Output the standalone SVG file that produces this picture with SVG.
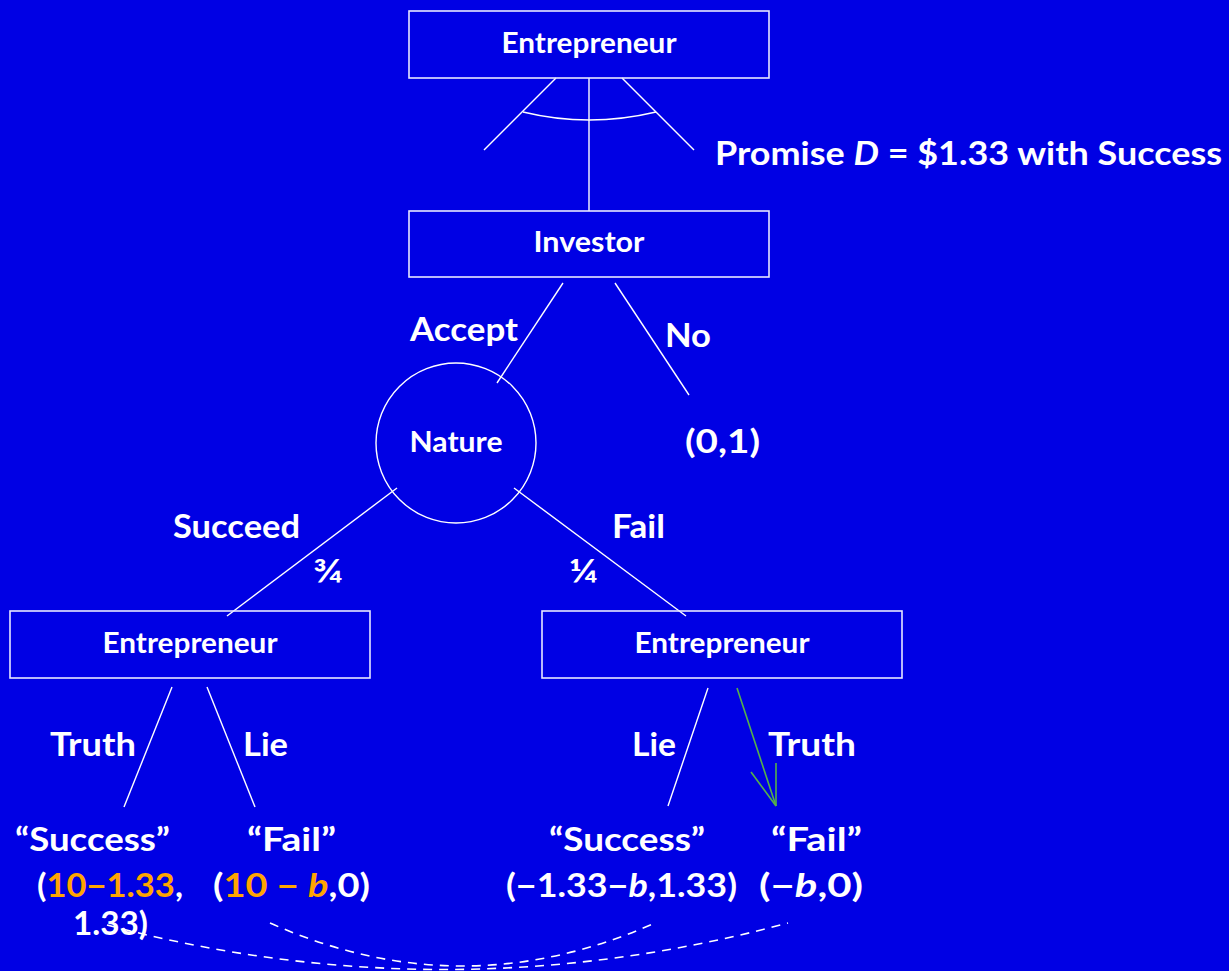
<svg xmlns="http://www.w3.org/2000/svg" width="1229" height="971" viewBox="0 0 1229 971">
<style>
text{font-family:Lato,"Liberation Sans",sans-serif;font-weight:bold;fill:#ffffff}
.box{fill:none;stroke:#e6e6ff;stroke-width:1.6}
.lbl{font-size:28px;text-anchor:middle}
.big{font-size:33px}
.ln{stroke:#ffffff;stroke-width:1.4;fill:none}
.dash{stroke:#ffffff;stroke-width:1.6;fill:none;stroke-dasharray:9 7}
.or{fill:#ffa500}
.it{font-style:italic}
</style>
<rect width="1229" height="971" fill="#0000e4"/>
<g id="connectors">
<line class="ln" x1="556" y1="78" x2="484" y2="150"/>
<line class="ln" x1="589" y1="78" x2="589" y2="211"/>
<line class="ln" x1="622" y1="78" x2="694" y2="150"/>
<path class="ln" d="M523 112 Q589 128 656 112"/>
<line class="ln" x1="563" y1="283" x2="497" y2="383"/>
<line class="ln" x1="615" y1="283" x2="689" y2="395"/>
<line class="ln" x1="397" y1="488" x2="227" y2="616"/>
<line class="ln" x1="514" y1="488" x2="686" y2="616"/>
<line class="ln" x1="172" y1="687" x2="124" y2="807"/>
<line class="ln" x1="207" y1="687" x2="255" y2="807"/>
<line class="ln" x1="708" y1="688" x2="668" y2="806"/>
<g stroke="#55b04a" stroke-width="1.6" fill="none">
<line x1="737" y1="688" x2="776" y2="806"/>
<line x1="751" y1="772" x2="776" y2="806"/>
<line x1="776" y1="763" x2="776" y2="806"/>
</g>
<path class="dash" d="M107 925 Q447 1015 788 923"/>
<path class="dash" d="M270 923 Q462 1009 655 923"/>
</g>
<g id="entrepreneur-top">
<rect class="box" x="409" y="11" width="360" height="67"/>
<text class="lbl" x="589" y="53" textLength="175" lengthAdjust="spacingAndGlyphs">Entrepreneur</text>
</g>
<g id="investor">
<rect class="box" x="409" y="211" width="360" height="66"/>
<text class="lbl" x="589" y="252" textLength="111" lengthAdjust="spacingAndGlyphs">Investor</text>
</g>
<g id="nature">
<circle cx="456" cy="443" r="80" fill="none" stroke="#ffffff" stroke-width="1.4"/>
<text class="lbl" x="456" y="452" textLength="93" lengthAdjust="spacingAndGlyphs">Nature</text>
</g>
<g id="entrepreneur-left">
<rect class="box" x="10" y="611" width="360" height="67"/>
<text class="lbl" x="190" y="653" textLength="175" lengthAdjust="spacingAndGlyphs">Entrepreneur</text>
</g>
<g id="entrepreneur-right">
<rect class="box" x="542" y="611" width="360" height="67"/>
<text class="lbl" x="722" y="653" textLength="175" lengthAdjust="spacingAndGlyphs">Entrepreneur</text>
</g>
<g id="labels">
<text class="big" x="715" y="165" textLength="507" lengthAdjust="spacingAndGlyphs">Promise <tspan class="it">D</tspan> = $1.33 with Success</text>
<text class="big" x="410" y="341" textLength="108" lengthAdjust="spacingAndGlyphs">Accept</text>
<text class="big" x="665" y="347" textLength="46" lengthAdjust="spacingAndGlyphs">No</text>
<text class="big" x="685" y="453" textLength="75" lengthAdjust="spacingAndGlyphs">(0,1)</text>
<text class="big" x="173" y="538" textLength="127" lengthAdjust="spacingAndGlyphs">Succeed</text>
<text class="big" x="612" y="538" textLength="53" lengthAdjust="spacingAndGlyphs">Fail</text>
<text class="big" x="313" y="583" textLength="30" lengthAdjust="spacingAndGlyphs">¾</text>
<text class="big" x="569" y="583" textLength="29" lengthAdjust="spacingAndGlyphs">¼</text>
<text class="big" x="50" y="756" textLength="86" lengthAdjust="spacingAndGlyphs">Truth</text>
<text class="big" x="243" y="756" textLength="45" lengthAdjust="spacingAndGlyphs">Lie</text>
<text class="big" x="632" y="756" textLength="44" lengthAdjust="spacingAndGlyphs">Lie</text>
<text class="big" x="768" y="756" textLength="88" lengthAdjust="spacingAndGlyphs">Truth</text>
</g>
<g id="payoffs">
<text class="big" x="15" y="851" textLength="155" lengthAdjust="spacingAndGlyphs">“Success”</text>
<text class="big" x="247" y="851" textLength="89" lengthAdjust="spacingAndGlyphs">“Fail”</text>
<text class="big" x="37" y="897" textLength="146" lengthAdjust="spacingAndGlyphs">(<tspan class="or">10−1.33</tspan>,</text>
<text class="big" x="73" y="935" textLength="75" lengthAdjust="spacingAndGlyphs">1.33)</text>
<text class="big" x="213" y="897" textLength="157" lengthAdjust="spacingAndGlyphs">(<tspan class="or">10 − <tspan class="it">b</tspan></tspan>,0)</text>
<text class="big" x="549" y="851" textLength="156" lengthAdjust="spacingAndGlyphs">“Success”</text>
<text class="big" x="771" y="851" textLength="91" lengthAdjust="spacingAndGlyphs">“Fail”</text>
<text class="big" x="506" y="897" textLength="231" lengthAdjust="spacingAndGlyphs">(−1.33−<tspan class="it">b</tspan>,1.33)</text>
<text class="big" x="759" y="897" textLength="104" lengthAdjust="spacingAndGlyphs">(−<tspan class="it">b</tspan>,0)</text>
</g>
</svg>
